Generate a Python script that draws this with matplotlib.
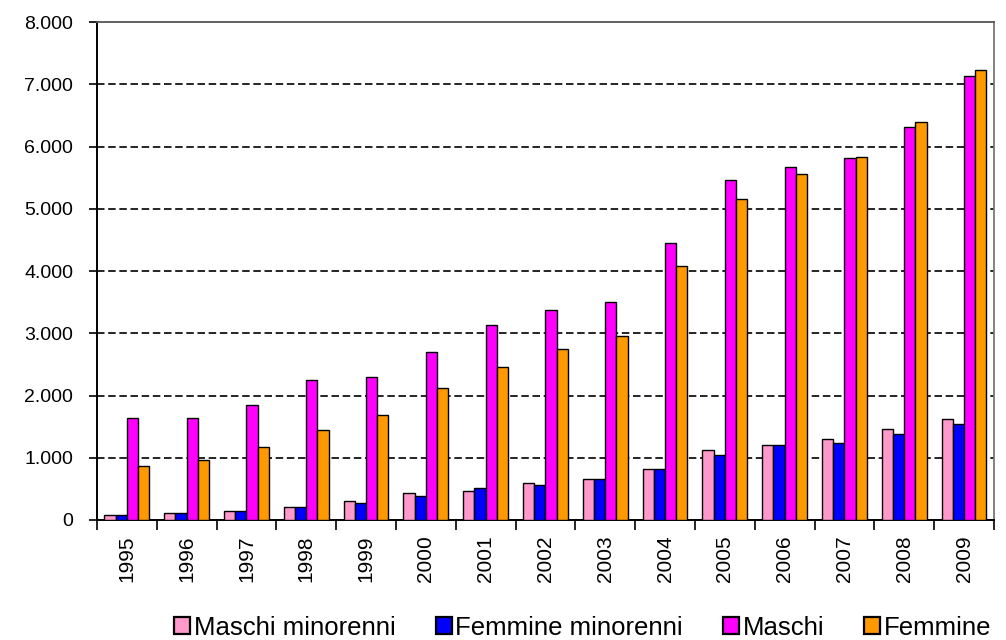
import matplotlib
matplotlib.use("Agg")
import matplotlib.pyplot as plt
import matplotlib.ticker as mticker
import numpy as np

plt.rcParams["font.family"] = ["Liberation Sans", "DejaVu Sans"]

anni = ["1995", "1996", "1997", "1998", "1999", "2000", "2001", "2002",
        "2003", "2004", "2005", "2006", "2007", "2008", "2009"]
maschi_minorenni = [85, 115, 140, 210, 305, 430, 470, 600, 665, 820, 1120, 1210, 1300, 1465, 1620]
femmine_minorenni = [85, 115, 140, 210, 280, 380, 510, 570, 665, 820, 1050, 1210, 1245, 1375, 1540]
maschi = [1635, 1635, 1855, 2245, 2300, 2700, 3140, 3370, 3500, 4455, 5465, 5675, 5815, 6320, 7130]
femmine = [860, 970, 1180, 1440, 1690, 2115, 2465, 2755, 2950, 4080, 5165, 5555, 5840, 6395, 7225]

serie = [
    ("Maschi minorenni", maschi_minorenni, "#FF99CC"),
    ("Femmine minorenni", femmine_minorenni, "#0000FF"),
    ("Maschi", maschi, "#FF00FF"),
    ("Femmine", femmine, "#FF9900"),
]

fig = plt.figure(figsize=(10.06, 6.40), dpi=100)
ax = fig.add_axes([0.0964, 0.1875, 0.8916, 0.778])

x = np.arange(len(anni))
w = 0.1875
for i, (nome, valori, colore) in enumerate(serie):
    ax.bar(x + (i - 1.5) * w, valori, width=w, color=colore,
           edgecolor="black", linewidth=1.0, label=nome, zorder=3)

ax.set_xlim(-0.5, len(anni) - 0.5)
ax.set_ylim(0, 8000)
ax.yaxis.set_major_locator(mticker.MultipleLocator(1000))
ax.yaxis.set_major_formatter(
    mticker.FuncFormatter(lambda v, p: f"{int(v):,}".replace(",", ".")))

ax.set_xticks(x)
ax.set_xticklabels(anni, rotation=90, fontsize=15)
ax.set_xticks(np.arange(-0.5, len(anni)), minor=True)
ax.tick_params(axis="x", which="major", length=0, pad=11)
ax.tick_params(axis="x", which="minor", length=7, width=1.2, color="black")
ax.tick_params(axis="y", length=6, width=1.2, labelsize=14, pad=11)

for v in range(1000, 8000, 1000):
    ax.axhline(v, color="black", linestyle=(0, (4.5, 2.2)), linewidth=1.2, zorder=1)

ax.spines["left"].set_linewidth(1.4)
ax.spines["bottom"].set_linewidth(1.4)
ax.spines["top"].set_color("#555555")
ax.spines["right"].set_color("#777777")
ax.spines["top"].set_linewidth(1.3)
ax.spines["right"].set_linewidth(1.3)

leg = fig.legend(loc="center left", bbox_to_anchor=(0.163, 0.019), ncol=4,
                 frameon=False, fontsize=18.5, handlelength=0.62, handleheight=0.62,
                 handletextpad=0.15, columnspacing=1.55, borderaxespad=0)
for h in leg.legend_handles:
    h.set_linewidth(1.6)

fig.savefig("out.png", dpi=100)
